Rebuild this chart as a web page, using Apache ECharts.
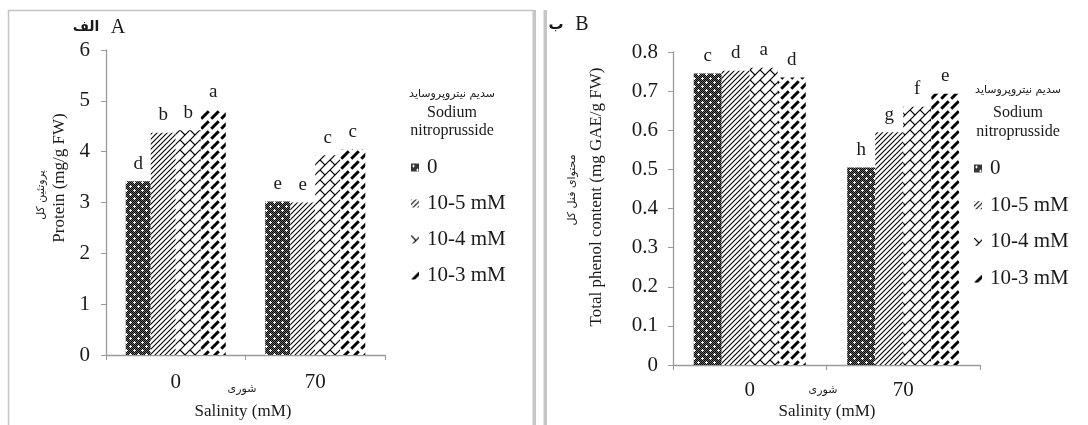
<!DOCTYPE html>
<html><head><meta charset="utf-8">
<script src="https://cdn.jsdelivr.net/npm/echarts@6/dist/echarts.min.js"></script>
<style>html,body{margin:0;padding:0;background:#fff}#c{width:1088px;height:425px}</style>
</head><body><div id="c"></div>
<script>
// ---- data ----
const categories = ['0', '70'];
const seriesNames = ['0', '10-5 mM', '10-4 mM', '10-3 mM'];
const proteinValues0 = [3.42, 3.02];
const proteinValues1 = [4.37, 3.0];
const proteinValues2 = [4.42, 3.93];
const proteinValues3 = [4.82, 4.05];
const proteinLetters0 = ['d', 'e'];
const proteinLetters1 = ['b', 'e'];
const proteinLetters2 = ['b', 'c'];
const proteinLetters3 = ['a', 'c'];
const phenolValues0 = [0.745, 0.505];
const phenolValues1 = [0.752, 0.595];
const phenolValues2 = [0.76, 0.66];
const phenolValues3 = [0.735, 0.693];
const phenolLetters0 = ['c', 'h'];
const phenolLetters1 = ['d', 'g'];
const phenolLetters2 = ['a', 'f'];
const phenolLetters3 = ['d', 'e'];
const proteinTicks = [0, 1, 2, 3, 4, 5, 6];
const phenolTicks = [0, 0.1, 0.2, 0.3, 0.4, 0.5, 0.6, 0.7, 0.8];

const proteinValues = [proteinValues0, proteinValues1, proteinValues2, proteinValues3];
const proteinLetters = [proteinLetters0, proteinLetters1, proteinLetters2, proteinLetters3];
const phenolValues = [phenolValues0, phenolValues1, phenolValues2, phenolValues3];
const phenolLetters = [phenolLetters0, phenolLetters1, phenolLetters2, phenolLetters3];

// ---- patterns ----
function mk(T) { const c = document.createElement('canvas'); c.width = T; c.height = T; return c; }
function stipple() {
  const c = mk(8), g = c.getContext('2d');
  g.fillStyle = '#6a6a6a'; g.fillRect(0, 0, 8, 8);
  g.fillStyle = '#000';
  for (let i = 0; i < 8; i++) for (let j = 0; j < 8; j++) if ((i + j) % 2 === 0) g.fillRect(i, j, 1, 1);
  g.fillStyle = '#fff';
  g.fillRect(2, 1, 1, 3); g.fillRect(1, 2, 3, 1);
  g.fillRect(6, 5, 1, 3); g.fillRect(5, 6, 3, 1);
  return c;
}
function thinLines() {
  const T = 5, c = mk(T), g = c.getContext('2d');
  g.fillStyle = '#fff'; g.fillRect(0, 0, T, T);
  g.strokeStyle = '#000'; g.lineWidth = 1.1;
  for (let k = -1; k <= 1; k++) { g.beginPath(); g.moveTo(k * T - 1, T + 1); g.lineTo(k * T + T + 1, -1); g.stroke(); }
  return c;
}
function brick() {
  const T = 10, c = mk(T), g = c.getContext('2d');
  g.fillStyle = '#fff'; g.fillRect(0, 0, T, T);
  const h = 5 * Math.SQRT2, w = 10 * Math.SQRT2;
  g.rotate(-Math.PI / 4);
  g.strokeStyle = '#000'; g.lineWidth = 1.2;
  for (let k = -6; k <= 6; k++) {
    g.beginPath(); g.moveTo(-40, k * h); g.lineTo(40, k * h); g.stroke();
    for (let j = -5; j <= 5; j++) {
      const x = j * w + (Math.abs(k) % 2 ? w / 2 : 0);
      g.beginPath(); g.moveTo(x, k * h); g.lineTo(x, (k + 1) * h); g.stroke();
    }
  }
  return c;
}
function thickDash() {
  const T = 10, c = mk(T), g = c.getContext('2d');
  g.fillStyle = '#fff'; g.fillRect(0, 0, T, T);
  const h = 5 * Math.SQRT2, w = 10 * Math.SQRT2, gap = 3.5;
  g.rotate(-Math.PI / 4);
  g.strokeStyle = '#000'; g.lineWidth = 3; g.lineCap = 'butt';
  for (let k = -6; k <= 6; k++) {
    for (let j = -5; j <= 5; j++) {
      const x = j * w + (Math.abs(k) % 2 ? w / 2 : 0);
      g.beginPath(); g.moveTo(x + gap / 2, k * h); g.lineTo(x + w - gap / 2, k * h); g.stroke();
    }
  }
  return c;
}
const patterns = [stipple(), thinLines(), brick(), thickDash()].map(img => ({ image: img, repeat: 'repeat' }));

const serif = 'Liberation Serif';
const txt = '#1a1a1a';
const axisGray = '#9a9a9a';

function makeX(grid, margin) {
  return {
    type: 'category', gridIndex: grid, data: categories,
    axisLine: { show: true, lineStyle: { color: axisGray, width: 1.3 } },
    axisTick: { show: true, length: 5, lineStyle: { color: axisGray } },
    axisLabel: { fontFamily: serif, fontSize: 21, color: txt, margin: margin }
  };
}
function makeY(grid, ticks, margin) {
  return {
    type: 'value', gridIndex: grid, min: ticks[0], max: ticks[ticks.length - 1],
    interval: ticks[1] - ticks[0],
    axisLine: { show: true, lineStyle: { color: axisGray, width: 1.3 } },
    axisTick: { show: true, length: 5, lineStyle: { color: axisGray } },
    splitLine: { show: false },
    axisLabel: { fontFamily: serif, fontSize: 21, color: txt, margin: margin }
  };
}

const series = [];
seriesNames.forEach((n, i) => {
  series.push({
    type: 'bar', name: n, xAxisIndex: 0, yAxisIndex: 0, data: proteinValues[i],
    barWidth: 25, barGap: '0%',
    itemStyle: { color: patterns[i] },
    label: { show: true, position: 'top', distance: 8, fontFamily: serif, fontSize: 19, color: txt,
      formatter: p => proteinLetters[i][p.dataIndex] }
  });
});
seriesNames.forEach((n, i) => {
  series.push({
    type: 'bar', name: n, xAxisIndex: 1, yAxisIndex: 1, data: phenolValues[i],
    barWidth: 28, barGap: '0%',
    itemStyle: { color: patterns[i] },
    label: { show: true, position: 'top', distance: 8, fontFamily: serif, fontSize: 19, color: txt,
      formatter: p => phenolLetters[i][p.dataIndex] }
  });
});

function legend(left, top, gap) {
  return {
    data: seriesNames, orient: 'vertical', left: left, top: top, icon: 'rect',
    itemWidth: 8, itemHeight: 8, itemGap: gap, selectedMode: false,
    textStyle: { fontFamily: serif, fontSize: 21, color: txt, lineHeight: 20, padding: [0, 0, 0, 3] }
  };
}

function t(x, y, text, size, opts) {
  return Object.assign({
    type: 'text', x: x, y: y, silent: true,
    style: Object.assign({ text: text, fontSize: size, fontFamily: serif, fill: txt, align: 'center', verticalAlign: 'middle' }, (opts && opts.style) || {})
  }, opts && opts.rotation ? { rotation: opts.rotation } : {});
}
const fa = 'DejaVu Sans';

const option = {
  animation: false,
  backgroundColor: '#fff',
  grid: [
    { left: 106, top: 50, width: 279, height: 305 },
    { left: 673, top: 52, width: 307, height: 313 }
  ],
  xAxis: [makeX(0, 17), makeX(1, 15)],
  yAxis: [makeY(0, proteinTicks, 16), makeY(1, phenolTicks, 15)],
  legend: [legend(406, 152, 15), legend(969, 153, 15.7)],
  series: series,
  graphic: [
    { type: 'polyline', silent: true, shape: { points: [[8.5, 425], [8.5, 10.5], [534, 10.5]] }, style: { stroke: '#c4c4c4', lineWidth: 1.5, fill: null } },
    { type: 'rect', silent: true, shape: { x: 532.5, y: 10, width: 3.5, height: 415 }, style: { fill: '#c6c6c6' } },
    { type: 'rect', silent: true, shape: { x: 543.5, y: 10, width: 3.5, height: 415 }, style: { fill: '#c6c6c6' } },
    // panel titles
    t(118, 28, 'A', 20),
    t(86, 27, 'الف', 14, { style: { fontFamily: fa, fontWeight: 'bold' } }),
    t(556, 25, 'ب', 15, { style: { fontFamily: fa, fontWeight: 'bold' } }),
    t(582, 25, 'B', 20),
    // y names
    t(60, 178, 'Protein (mg/g FW)', 17, { rotation: Math.PI / 2 }),
    t(41, 195, 'پروتئین کل', 11, { rotation: Math.PI / 2, style: { fontFamily: fa } }),
    t(597, 197, 'Total phenol content (mg GAE/g FW)', 17, { rotation: Math.PI / 2 }),
    t(572, 190, 'محتوای فنل کل', 11, { rotation: Math.PI / 2, style: { fontFamily: fa } }),
    // x names
    t(242, 389, 'شوری', 11, { style: { fontFamily: fa } }),
    t(243, 412, 'Salinity (mM)', 17),
    t(823, 390, 'شوری', 11, { style: { fontFamily: fa } }),
    t(827, 412, 'Salinity (mM)', 17),
    // legend titles
    t(452, 94, 'سدیم نیتروپروساید', 11, { style: { fontFamily: fa } }),
    t(452, 113, 'Sodium', 16),
    t(452, 131, 'nitroprusside', 16),
    t(1018, 90, 'سدیم نیتروپروساید', 11, { style: { fontFamily: fa } }),
    t(1018, 113, 'Sodium', 16),
    t(1018, 132, 'nitroprusside', 16)
  ]
};

const chart = echarts.init(document.getElementById('c'), null, { renderer: 'canvas' });
chart.setOption(option);
</script>
</body></html>
